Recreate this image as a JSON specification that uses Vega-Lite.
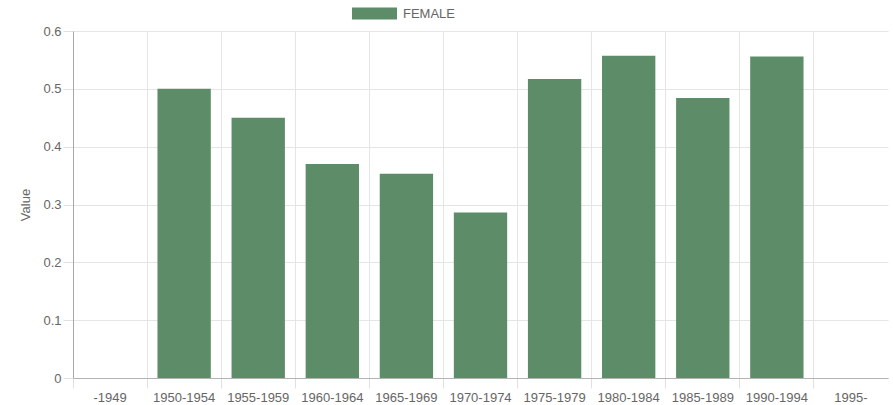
{
  "$schema": "https://vega.github.io/schema/vega-lite/v6.json",
  "width": 815,
  "height": 347,
  "autosize": {"type": "none"},
  "padding": {"left": 73, "top": 31, "right": 5, "bottom": 27},
  "background": "white",
  "data": {
    "values": [
      {"period": "1950-1954", "sex": "FEMALE", "value": 0.5},
      {"period": "1955-1959", "sex": "FEMALE", "value": 0.45},
      {"period": "1960-1964", "sex": "FEMALE", "value": 0.37},
      {"period": "1965-1969", "sex": "FEMALE", "value": 0.353},
      {"period": "1970-1974", "sex": "FEMALE", "value": 0.286},
      {"period": "1975-1979", "sex": "FEMALE", "value": 0.517},
      {"period": "1980-1984", "sex": "FEMALE", "value": 0.557},
      {"period": "1985-1989", "sex": "FEMALE", "value": 0.484},
      {"period": "1990-1994", "sex": "FEMALE", "value": 0.556}
    ]
  },
  "mark": {"type": "bar", "width": {"band": 0.72}},
  "encoding": {
    "x": {
      "field": "period",
      "type": "nominal",
      "sort": null,
      "scale": {
        "domain": ["-1949", "1950-1954", "1955-1959", "1960-1964", "1965-1969", "1970-1974", "1975-1979", "1980-1984", "1985-1989", "1990-1994", "1995-"],
        "paddingInner": 0,
        "paddingOuter": 0
      },
      "axis": {
        "title": null,
        "labelAngle": 0,
        "bandPosition": 0,
        "grid": true,
        "gridColor": "#e5e5e5",
        "tickColor": "#e0e0e0",
        "tickSize": 10,
        "labelPadding": 3,
        "domainColor": "#b3b3b3",
        "labelFont": "Liberation Sans",
        "labelFontSize": 13,
        "labelColor": "#666666",
        "labelAlign": "center"
      }
    },
    "y": {
      "field": "value",
      "type": "quantitative",
      "scale": {"domain": [0, 0.6], "nice": false},
      "axis": {
        "title": "Value",
        "values": [0, 0.1, 0.2, 0.3, 0.4, 0.5, 0.6],
        "format": "~f",
        "grid": true,
        "gridColor": "#e5e5e5",
        "tickColor": "#e0e0e0",
        "tickSize": 10,
        "labelPadding": 2,
        "domainColor": "#a8a8a8",
        "labelFont": "Liberation Sans",
        "labelFontSize": 13,
        "labelColor": "#666666",
        "titleFont": "Liberation Sans",
        "titleFontSize": 13,
        "titleFontWeight": "normal",
        "titleColor": "#666666",
        "titlePadding": 10
      }
    },
    "color": {
      "field": "sex",
      "type": "nominal",
      "scale": {"range": ["#5c8d68"]},
      "legend": {
        "title": null,
        "orient": "none",
        "legendX": 279,
        "legendY": -40,
        "symbolType": "M-1,-0.2667H1V0.2667H-1Z",
        "symbolSize": 2025,
        "symbolStrokeWidth": 0,
        "symbolOpacity": 1,
        "labelOffset": 6,
        "labelFont": "Liberation Sans",
        "labelFontSize": 13,
        "labelColor": "#666666",
        "padding": 0
      }
    }
  },
  "config": {"view": {"stroke": null}}
}
